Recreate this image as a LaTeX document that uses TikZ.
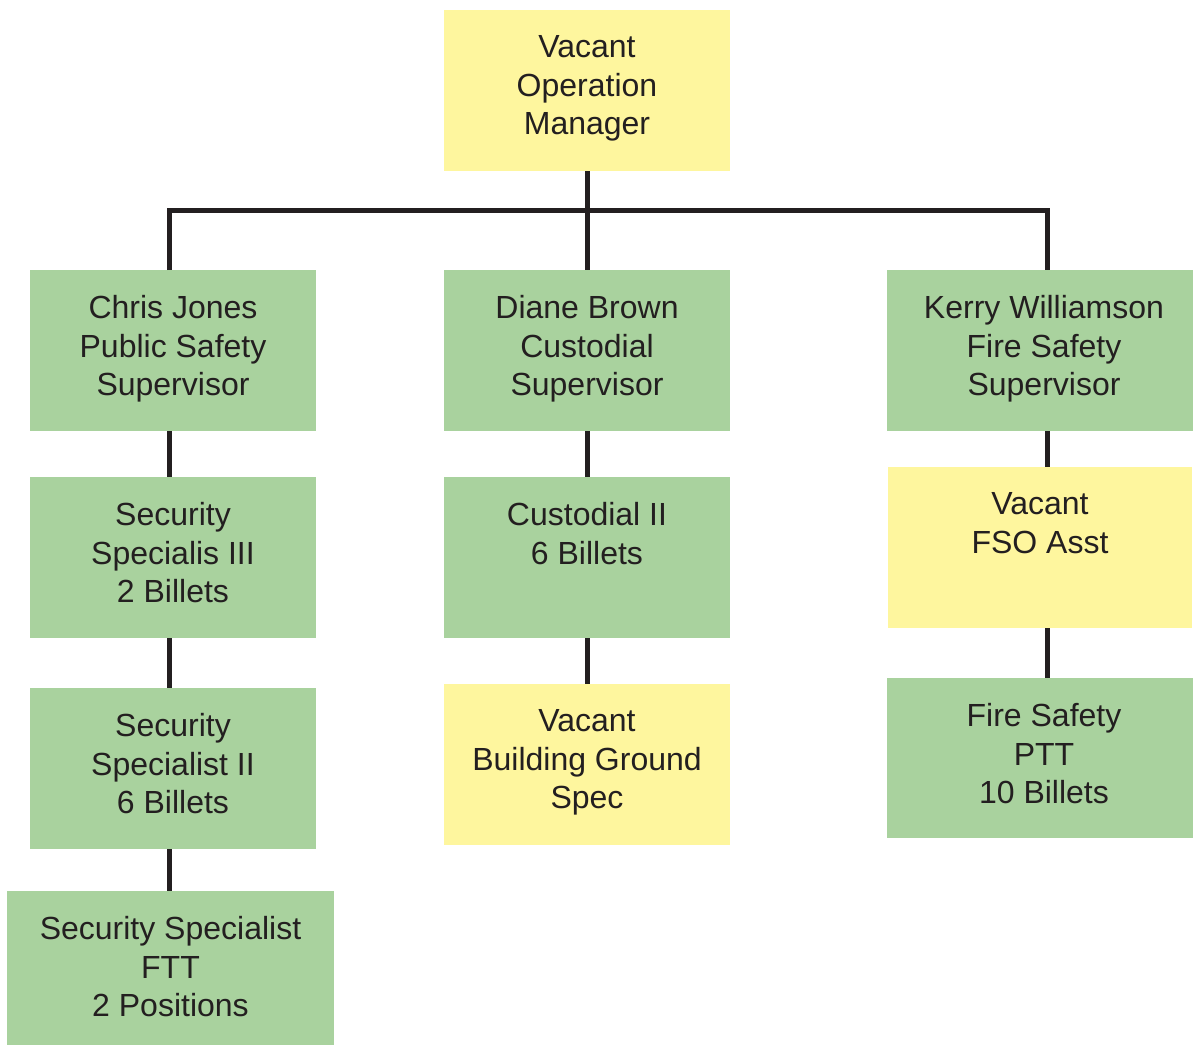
\documentclass[tikz,border=0pt]{standalone}
\usepackage{fontspec}
\setmainfont{Liberation Sans}
\definecolor{boxgreen}{HTML}{A9D29E}
\definecolor{boxyellow}{HTML}{FEF69E}
\definecolor{ink}{HTML}{231F20}
\tikzset{
  box/.style={inner sep=0pt, outer sep=0pt, anchor=north west},
  gbox/.style={box, fill=boxgreen},
  ybox/.style={box, fill=boxyellow},
  txt/.style={anchor=north, inner sep=0pt, outer sep=0pt, align=center, text=ink,
    font=\fontsize{32}{38.5}\selectfont},
  conn/.style={draw=ink, line width=5pt},
}
\begin{document}
\begin{tikzpicture}[x=1pt, y=-1pt]
\useasboundingbox (0,0) rectangle (1193,1045);
% boxes
\node[ybox, minimum width=286pt, minimum height=161pt] (top) at (444,10) {};
\node[gbox, minimum width=286pt, minimum height=161pt] (chris) at (30,270) {};
\node[gbox, minimum width=286pt, minimum height=161pt] (diane) at (444,270) {};
\node[gbox, minimum width=306pt, minimum height=161pt] (kerry) at (887,270) {};
\node[gbox, minimum width=286pt, minimum height=161pt] (sec3) at (30,477) {};
\node[gbox, minimum width=286pt, minimum height=161pt] (cust2) at (444,477) {};
\node[ybox, minimum width=304pt, minimum height=161pt] (fso) at (888,467) {};
\node[gbox, minimum width=286pt, minimum height=161pt] (sec2) at (30,688) {};
\node[ybox, minimum width=286pt, minimum height=161pt] (vbg) at (444,684) {};
\node[gbox, minimum width=306pt, minimum height=160pt] (fire) at (887,678) {};
\node[gbox, minimum width=327pt, minimum height=154pt] (ftt) at (7,891) {};
% texts
\node[txt] (top-t) at ([yshift=-25.5pt]top.north) {Vacant\\Operation\\Manager};
\node[txt] (chris-t) at ([yshift=-25.5pt]chris.north) {Chris Jones\\Public Safety\\Supervisor};
\node[txt] (diane-t) at ([yshift=-25.5pt]diane.north) {Diane Brown\\Custodial\\Supervisor};
\node[txt] (kerry-t) at ([xshift=4pt, yshift=-25.5pt]kerry.north) {Kerry Williamson\\Fire Safety\\Supervisor};
\node[txt] (sec3-t) at ([yshift=-25.5pt]sec3.north) {Security\\Specialis III\\2 Billets};
\node[txt] (cust2-t) at ([yshift=-25.5pt]cust2.north) {Custodial II\\6 Billets};
\node[txt] (fso-t) at ([yshift=-25.5pt]fso.north) {Vacant\\FSO Asst};
\node[txt] (sec2-t) at ([yshift=-25.5pt]sec2.north) {Security\\Specialist II\\6 Billets};
\node[txt] (vbg-t) at ([yshift=-25.5pt]vbg.north) {Vacant\\Building Ground\\Spec};
\node[txt] (fire-t) at ([xshift=4pt, yshift=-25.5pt]fire.north) {Fire Safety\\PTT\\10 Billets};
\node[txt] (ftt-t) at ([yshift=-25.5pt]ftt.north) {Security Specialist\\FTT\\2 Positions};
% connectors
\coordinate (busL) at (169,210);
\coordinate (busR) at (1047,210);
\draw[conn] (busL |- chris.north) -- (busL) -- (busR) -- (busR |- kerry.north);
\draw[conn] (top.south) -- (diane.north);
\draw[conn] (chris.south -| busL) -- (sec3.north -| busL);
\draw[conn] (sec3.south -| busL) -- (sec2.north -| busL);
\draw[conn] (sec2.south -| busL) -- (ftt.north -| busL);
\draw[conn] (diane.south) -- (cust2.north);
\draw[conn] (cust2.south) -- (vbg.north);
\draw[conn] (kerry.south -| busR) -- (fso.north -| busR);
\draw[conn] (fso.south -| busR) -- (fire.north -| busR);
\end{tikzpicture}
\end{document}
